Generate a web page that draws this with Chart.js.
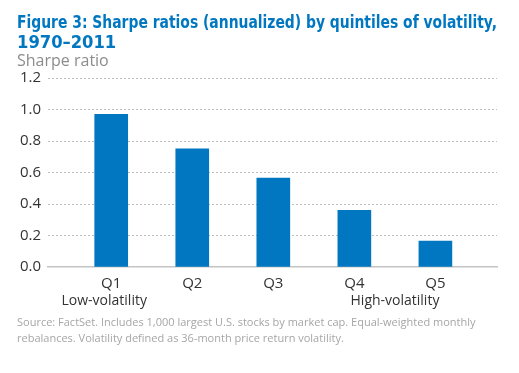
<!DOCTYPE html>
<html>
<head>
<meta charset="utf-8">
<script src="https://cdn.jsdelivr.net/npm/chart.js@4.4.1/dist/chart.umd.min.js"></script>
<style>
  body { margin: 0; background: #fff; }
  #wrap { width: 519px; height: 373px; }
</style>
</head>
<body>
<div id="wrap"><canvas id="sharpeChart" width="519" height="373"></canvas></div>
<script>
// data
var quintiles = ["Q1", "Q2", "Q3", "Q4", "Q5"];
var sharpeRatios = [0.97, 0.75, 0.565, 0.36, 0.165];
var yTicks = [0.0, 0.2, 0.4, 0.6, 0.8, 1.0, 1.2];
var endLabels = ["Low-volatility", "High-volatility"];
var titleLines = ["Figure 3: Sharpe ratios (annualized) by quintiles of volatility,", "1970\u20132011"];
var axisTitle = "Sharpe ratio";
var sourceLines = [
    "Source: FactSet. Includes 1,000 largest U.S. stocks by market cap. Equal-weighted monthly",
    "rebalances. Volatility defined as 36-month price return volatility."
];

var blue = "#0077c0";
var bodyFont = "'Open Sans', 'Noto Sans', sans-serif";

// extra texts under the axis and the footnote
var extraText = {
    id: "extraText",
    afterDraw: function (chart) {
        var ctx = chart.ctx;
        var x = chart.scales.x;
        ctx.save();
        ctx.fillStyle = "#333333";
        ctx.font = "14px " + bodyFont;
        ctx.textBaseline = "middle";
        ctx.textAlign = "center";
        ctx.fillText(endLabels[0], x.getPixelForValue(0) - 7, 301);
        ctx.textAlign = "right";
        ctx.fillText(endLabels[1], x.getPixelForValue(quintiles.length - 1) + 4, 301);
        ctx.fillStyle = "#a6a6a6";
        ctx.font = "11px " + bodyFont;
        ctx.textAlign = "left";
        sourceLines.forEach(function (line, i) {
            ctx.fillText(line, 17, 323 + i * 16);
        });
        ctx.restore();
    }
};

var ctx = document.getElementById("sharpeChart").getContext("2d");
var myChart = new Chart(ctx, {
    type: "bar",
    data: {
        datasets: [{
            data: sharpeRatios.map(function (v, i) { return { x: i, y: v }; }),
            backgroundColor: blue,
            barThickness: 33
        }]
    },
    options: {
        responsive: false,
        animation: false,
        layout: { padding: { left: 17, right: 22, top: 0, bottom: 0 } },
        plugins: {
            legend: { display: false },
            tooltip: { enabled: false },
            title: {
                display: true,
                text: titleLines,
                align: "start",
                color: blue,
                font: { family: "'Liberation Sans Narrow', 'DejaVu Sans Condensed', sans-serif", size: 18.2, weight: "bold", lineHeight: 1.1 },
                padding: { top: 13, bottom: 0 }
            },
            subtitle: {
                display: true,
                text: axisTitle,
                align: "start",
                color: "#8c8c8c",
                font: { family: bodyFont, size: 16, lineHeight: 1.0 },
                padding: { top: 0, bottom: 9 }
            }
        },
        scales: {
            x: {
                type: "linear",
                offset: false,
                min: -0.78,
                max: 4.76,
                grid: { display: false, drawTicks: false },
                border: { display: true, color: "#c4c4c4", width: 1.5 },
                afterFit: function (scale) { scale.height = 106; },
                afterBuildTicks: function (scale) {
                    scale.ticks = quintiles.map(function (q, i) { return { value: i }; });
                },
                ticks: {
                    autoSkip: false,
                    maxRotation: 0,
                    padding: 8,
                    color: "#333333",
                    font: { family: bodyFont, size: 15 },
                    callback: function (value) { return quintiles[value]; }
                }
            },
            y: {
                min: 0,
                max: 1.2,
                afterFit: function (scale) { scale.width = 31; },
                afterBuildTicks: function (scale) {
                    scale.ticks = yTicks.map(function (v) { return { value: v }; });
                },
                grid: {
                    color: function (c) { return c.tick && c.tick.value === 0 ? "rgba(0,0,0,0)" : "#bdbdbd"; },
                    drawTicks: false
                },
                border: { display: false, dash: [2, 2] },
                ticks: {
                    padding: 7,
                    color: "#333333",
                    font: { family: bodyFont, size: 15 },
                    callback: function (value) { return value.toFixed(1); }
                }
            }
        }
    },
    plugins: [extraText]
});
</script>
</body>
</html>
